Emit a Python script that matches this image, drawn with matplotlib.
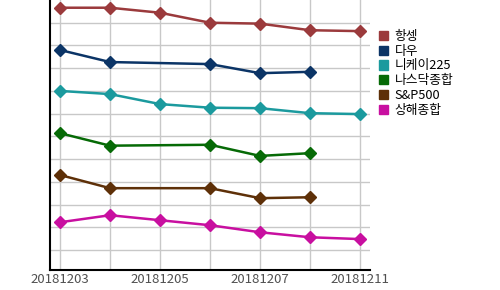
import numpy as np
import matplotlib
matplotlib.use('Agg')
import matplotlib.pyplot as plt
from matplotlib.patches import Patch

plt.rcParams['font.family'] = ['Noto Sans CJK KR', 'DejaVu Sans']

#dates on the x axis (only every other one is labelled)
dates = ['20181203', '20181204', '20181205', '20181206', '20181207', '20181210', '20181211']

#index values (relative scale, gaps are missing days)
hangseng = [10.66, 10.66, 10.44, 10.00, 9.96, 9.67, 9.63]
dow = [8.80, 8.27, np.nan, 8.18, 7.78, 7.84, np.nan]
nikkei = [7.00, 6.86, 6.42, 6.26, 6.24, 6.02, 5.98]
nasdaq = [5.14, 4.59, np.nan, 4.63, 4.14, 4.26, np.nan]
sp500 = [3.30, 2.72, np.nan, 2.72, 2.28, 2.32, np.nan]
shanghai = [1.22, 1.53, 1.31, 1.09, 0.78, 0.56, 0.48]

names = ['항셍', '다우', '니케이225', '나스닥종합', 'S&P500', '상해종합']
series = [hangseng, dow, nikkei, nasdaq, sp500, shanghai]
colors = ['#9b3a3c', '#0b3466', '#1b9a9e', '#066a06', '#5e3008', '#c80fa0']

fig = plt.figure(figsize=(5, 2.9), dpi=100)
ax = fig.add_axes([0.1, 0.069, 0.64, 0.931])

x = np.arange(len(dates))
for vals, c in zip(series, colors):
	v = np.array(vals, dtype=float)
	ok = ~np.isnan(v)
	ax.plot(x[ok], v[ok], color=c, lw=1.8, marker='D', ms=6.2, zorder=3)

ax.set_xlim(-0.2, 6.2)
ax.set_ylim(-0.88, 11.0)
ax.set_xticks(x)
ax.set_xticklabels([d if i % 2 == 0 else '' for i, d in enumerate(dates)])
ax.set_yticks(np.arange(0, 11))
ax.set_yticklabels([])
ax.tick_params(length=0, labelsize=9.5, labelcolor='#505050', pad=2)
ax.grid(color='#c8c8c8', lw=1)
ax.set_axisbelow(True)
for s in ['top', 'right']:
	ax.spines[s].set_visible(False)
for s in ['left', 'bottom']:
	ax.spines[s].set_linewidth(1.5)

handles = [Patch(facecolor=c, edgecolor=c) for c in colors]
fig.legend(handles, names, loc='upper left', bbox_to_anchor=(0.757, 0.897),
	frameon=False, fontsize=9.2, handlelength=0.75, handleheight=0.75,
	handletextpad=0.5, labelspacing=0.14, borderpad=0, borderaxespad=0)

fig.savefig('out.png', dpi=100)
